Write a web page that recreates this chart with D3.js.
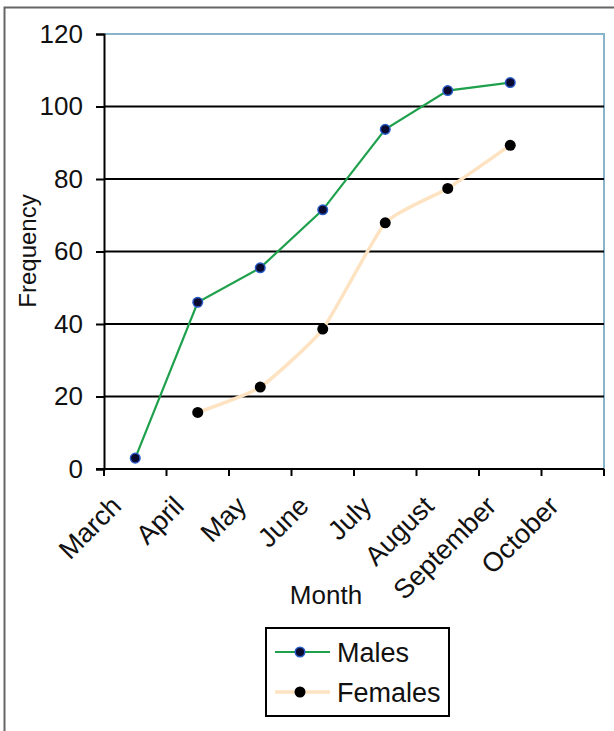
<!DOCTYPE html>
<html>
<head>
<meta charset="utf-8">
<script src="https://cdn.jsdelivr.net/npm/d3@7"></script>
<style>
  html, body { margin: 0; padding: 0; background: #fff; }
  svg { display: block; font-family: "Liberation Sans", Arial, sans-serif; }
</style>
</head>
<body>
<svg id="chart" width="614" height="731"></svg>
<script>
// Monthly frequency counts by sex
const months = ["March", "April", "May", "June", "July", "August", "September", "October"];
const malesValues = [3, 46, 55.5, 71.5, 93.7, 104.4, 106.6, null];
const femalesValues = [null, 15.6, 22.6, 38.6, 67.9, 77.4, 89.3, null];
const yTicks = [0, 20, 40, 60, 80, 100, 120];

const svg = d3.select("#chart");
const FONT = "Liberation Sans, Arial, sans-serif";

// Outer frame
svg.append("rect")
  .attr("x", 4.5).attr("y", 7.5)
  .attr("width", 640).attr("height", 760)
  .attr("fill", "none").attr("stroke", "#666").attr("stroke-width", 2);

const plot = { left: 104, right: 604, top: 34, bottom: 469 };

const x = d3.scaleBand().domain(months).range([plot.left, plot.right]).padding(0);
const y = d3.scaleLinear().domain([0, 120]).range([plot.bottom, plot.top]);
const cx = m => x(m) + x.bandwidth() / 2;

// Plot area border (top and right)
svg.append("path")
  .attr("d", `M${plot.left},${plot.top}H${plot.right}V${plot.bottom}`)
  .attr("fill", "none").attr("stroke", "#86b4c9").attr("stroke-width", 2);

// Horizontal gridlines
svg.append("g").selectAll("line")
  .data(yTicks.filter(t => t > 0 && t < 120))
  .join("line")
  .attr("x1", plot.left).attr("x2", plot.right)
  .attr("y1", d => y(d)).attr("y2", d => y(d))
  .attr("stroke", "#000").attr("stroke-width", 2);

// Y axis
const yAxis = svg.append("g")
  .attr("transform", `translate(${plot.left},0)`)
  .call(d3.axisLeft(y).tickValues(yTicks).tickSize(8).tickPadding(13));
yAxis.attr("font-size", 26).attr("font-family", FONT);
yAxis.select(".domain").attr("stroke", "#000").attr("stroke-width", 2);
yAxis.selectAll(".tick line").attr("stroke", "#000").attr("stroke-width", 2);
yAxis.selectAll(".tick text").attr("fill", "#111");

// X axis: ticks on category boundaries
const xAxis = svg.append("g").attr("transform", `translate(0,${plot.bottom})`);
xAxis.append("line")
  .attr("x1", plot.left - 8).attr("x2", plot.right)
  .attr("stroke", "#000").attr("stroke-width", 2);
xAxis.selectAll("line.tk")
  .data(d3.range(months.length + 1))
  .join("line").attr("class", "tk")
  .attr("x1", i => plot.left + i * x.bandwidth())
  .attr("x2", i => plot.left + i * x.bandwidth())
  .attr("y1", 0).attr("y2", 7)
  .attr("stroke", "#000").attr("stroke-width", 2);
xAxis.selectAll("text")
  .data(months)
  .join("text")
  .attr("transform", d => `translate(${cx(d) - 19},${32}) rotate(-45)`)
  .attr("text-anchor", "end")
  .attr("dy", "0.35em")
  .attr("font-size", 27).attr("font-family", FONT).attr("fill", "#111")
  .text(d => d);

// Axis titles
svg.append("text")
  .attr("transform", `translate(36,251) rotate(-90)`)
  .attr("text-anchor", "middle")
  .attr("font-size", 24).attr("font-family", FONT).attr("fill", "#111")
  .text("Frequency");
svg.append("text")
  .attr("x", 326).attr("y", 604)
  .attr("text-anchor", "middle")
  .attr("font-size", 26).attr("font-family", FONT).attr("fill", "#111")
  .text("Month");

// Series lines
const malePts = months.map((m, i) => ({ m, v: malesValues[i] })).filter(d => d.v != null);
const femalePts = months.map((m, i) => ({ m, v: femalesValues[i] })).filter(d => d.v != null);

svg.append("path")
  .datum(femalePts)
  .attr("fill", "none").attr("stroke", "#fde3c2").attr("stroke-width", 3.5)
  .attr("d", d3.line().x(d => cx(d.m)).y(d => y(d.v)).curve(d3.curveCardinal.tension(0.5)));

svg.append("path")
  .datum(malePts)
  .attr("fill", "none").attr("stroke", "#1fa04c").attr("stroke-width", 2.2)
  .attr("d", d3.line().x(d => cx(d.m)).y(d => y(d.v)).curve(d3.curveLinear));

// Markers
svg.append("g").selectAll("circle")
  .data(femalePts).join("circle")
  .attr("cx", d => cx(d.m)).attr("cy", d => y(d.v)).attr("r", 5.5)
  .attr("fill", "#000");

svg.append("g").selectAll("circle")
  .data(malePts).join("circle")
  .attr("cx", d => cx(d.m)).attr("cy", d => y(d.v)).attr("r", 4.8)
  .attr("fill", "#0a0a30").attr("stroke", "#2a5cc8").attr("stroke-width", 1.5);

// Legend
const legend = svg.append("g");
legend.append("rect")
  .attr("x", 266).attr("y", 628).attr("width", 183).attr("height", 88)
  .attr("fill", "#fff").attr("stroke", "#000").attr("stroke-width", 2);
const items = [
  { name: "Males", color: "#1fa04c", w: 2.2, fill: "#0a0a30", stroke: "#2a5cc8", r: 4.8, y: 652 },
  { name: "Females", color: "#fde3c2", w: 3.5, fill: "#000", stroke: "none", r: 5.5, y: 692 }
];
items.forEach(it => {
  legend.append("line")
    .attr("x1", 275).attr("x2", 330).attr("y1", it.y).attr("y2", it.y)
    .attr("stroke", it.color).attr("stroke-width", it.w);
  legend.append("circle")
    .attr("cx", 300).attr("cy", it.y).attr("r", it.r)
    .attr("fill", it.fill).attr("stroke", it.stroke).attr("stroke-width", 1.5);
  legend.append("text")
    .attr("x", 337).attr("y", it.y).attr("dy", "0.36em")
    .attr("font-size", 27).attr("font-family", FONT).attr("fill", "#111")
    .text(it.name);
});
</script>
</body>
</html>
